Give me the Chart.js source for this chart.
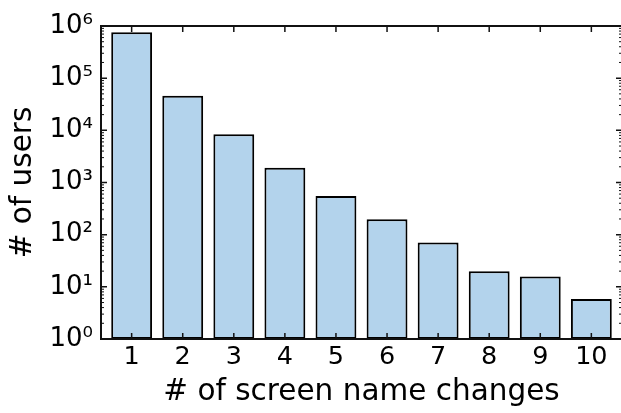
<!DOCTYPE html>
<html>
<head>
<meta charset="utf-8">
<script src="https://cdn.jsdelivr.net/npm/chart.js@4/dist/chart.umd.min.js"></script>
<style>
  html, body { margin: 0; padding: 0; background: #fff; overflow: hidden; }
  #wrap { width: 621px; height: 413px; overflow: hidden; }
</style>
</head>
<body>
<div id="wrap"><canvas id="c" width="624" height="413"></canvas></div>
<script>
// ---- data ----
const categories = [1, 2, 3, 4, 5, 6, 7, 8, 9, 10];
const userCounts = [757000, 46100, 8400, 1920, 551, 197, 71, 20, 15.7, 5.85];
const xTickLabels = ['1', '2', '3', '4', '5', '6', '7', '8', '9', '10'];
const yTickValues = [1, 10, 100, 1000, 10000, 100000, 1000000];
const yTickLabels = ['10\u2070', '10\u00B9', '10\u00B2', '10\u00B3', '10\u2074', '10\u2075', '10\u2076'];
const xTitle = '# of screen name changes';
const yTitle = '# of users';

const FONT = "'DejaVu Sans', 'Liberation Sans', sans-serif";
const SPINE = '#111';

// frame + inward ticks, drawn through the chart's own scales
const framePlugin = {
  id: 'frame',
  afterDraw(chart) {
    const { ctx, chartArea: a, scales } = chart;
    const xs = scales.x, ys = scales.y;
    ctx.save();
    ctx.strokeStyle = SPINE;
    ctx.lineWidth = 1.5;
    ctx.beginPath();
    categories.forEach(v => {
      const px = xs.getPixelForValue(v);
      ctx.moveTo(px, a.bottom); ctx.lineTo(px, a.bottom - 6);
      ctx.moveTo(px, a.top); ctx.lineTo(px, a.top + 6);
    });
    yTickValues.forEach(v => {
      const py = ys.getPixelForValue(v);
      ctx.moveTo(a.left, py); ctx.lineTo(a.left + 6, py);
      ctx.moveTo(a.right, py); ctx.lineTo(a.right - 6, py);
    });
    ctx.stroke();
    ctx.lineWidth = 1;
    ctx.beginPath();
    for (let k = 0; k < yTickValues.length - 1; k++) {
      for (let m = 2; m <= 9; m++) {
        const py = ys.getPixelForValue(m * yTickValues[k]);
        ctx.moveTo(a.left, py); ctx.lineTo(a.left + 3, py);
        ctx.moveTo(a.right, py); ctx.lineTo(a.right - 3, py);
      }
    }
    ctx.stroke();
    ctx.lineWidth = 2;
    ctx.strokeRect(a.left, a.top, a.right - a.left, a.bottom - a.top);
    ctx.restore();
  }
};

new Chart(document.getElementById('c'), {
  type: 'bar',
  data: {
    datasets: [{
      data: categories.map((c, i) => ({ x: c, y: userCounts[i] })),
      backgroundColor: 'rgb(179,211,236)',
      borderColor: '#000',
      borderWidth: 2,
      borderSkipped: false,
      barPercentage: 0.8,
      categoryPercentage: 1.0
    }]
  },
  options: {
    responsive: false,
    devicePixelRatio: 1,
    animation: false,
    layout: { padding: { top: 26, right: 2, left: 0, bottom: 0 } },
    plugins: { legend: { display: false }, tooltip: { enabled: false } },
    scales: {
      x: {
        type: 'linear',
        min: 0.4,
        max: 10.6,
        offset: false,
        grid: { display: false, drawTicks: false },
        border: { display: false },
        afterBuildTicks: s => { s.ticks = categories.map(v => ({ value: v })); },
        afterFit: s => { s.height = 74; },
        ticks: {
          padding: 3,
          color: '#000',
          font: { family: FONT, size: 25.5 },
          maxRotation: 0,
          autoSkip: false,
          callback: v => xTickLabels[categories.indexOf(v)]
        },
        title: {
          display: true,
          text: xTitle,
          color: '#000',
          font: { family: FONT, size: 29.5, lineHeight: 1.2 },
          padding: { top: 0, bottom: 3.3 }
        }
      },
      y: {
        type: 'logarithmic',
        min: 1,
        max: 1000000,
        grid: { display: false, drawTicks: false },
        border: { display: false },
        afterBuildTicks: s => { s.ticks = yTickValues.map(v => ({ value: v })); },
        afterFit: s => { s.width = 101; },
        ticks: {
          padding: 8,
          color: '#000',
          font: { family: FONT, size: 26 },
          autoSkip: false,
          callback: v => yTickLabels[yTickValues.indexOf(v)]
        },
        title: {
          display: true,
          text: yTitle,
          color: '#000',
          font: { family: FONT, size: 29.5, lineHeight: 1.2 },
          padding: { top: 5.3, bottom: 0 }
        }
      }
    }
  },
  plugins: [framePlugin]
});
</script>
</body>
</html>
